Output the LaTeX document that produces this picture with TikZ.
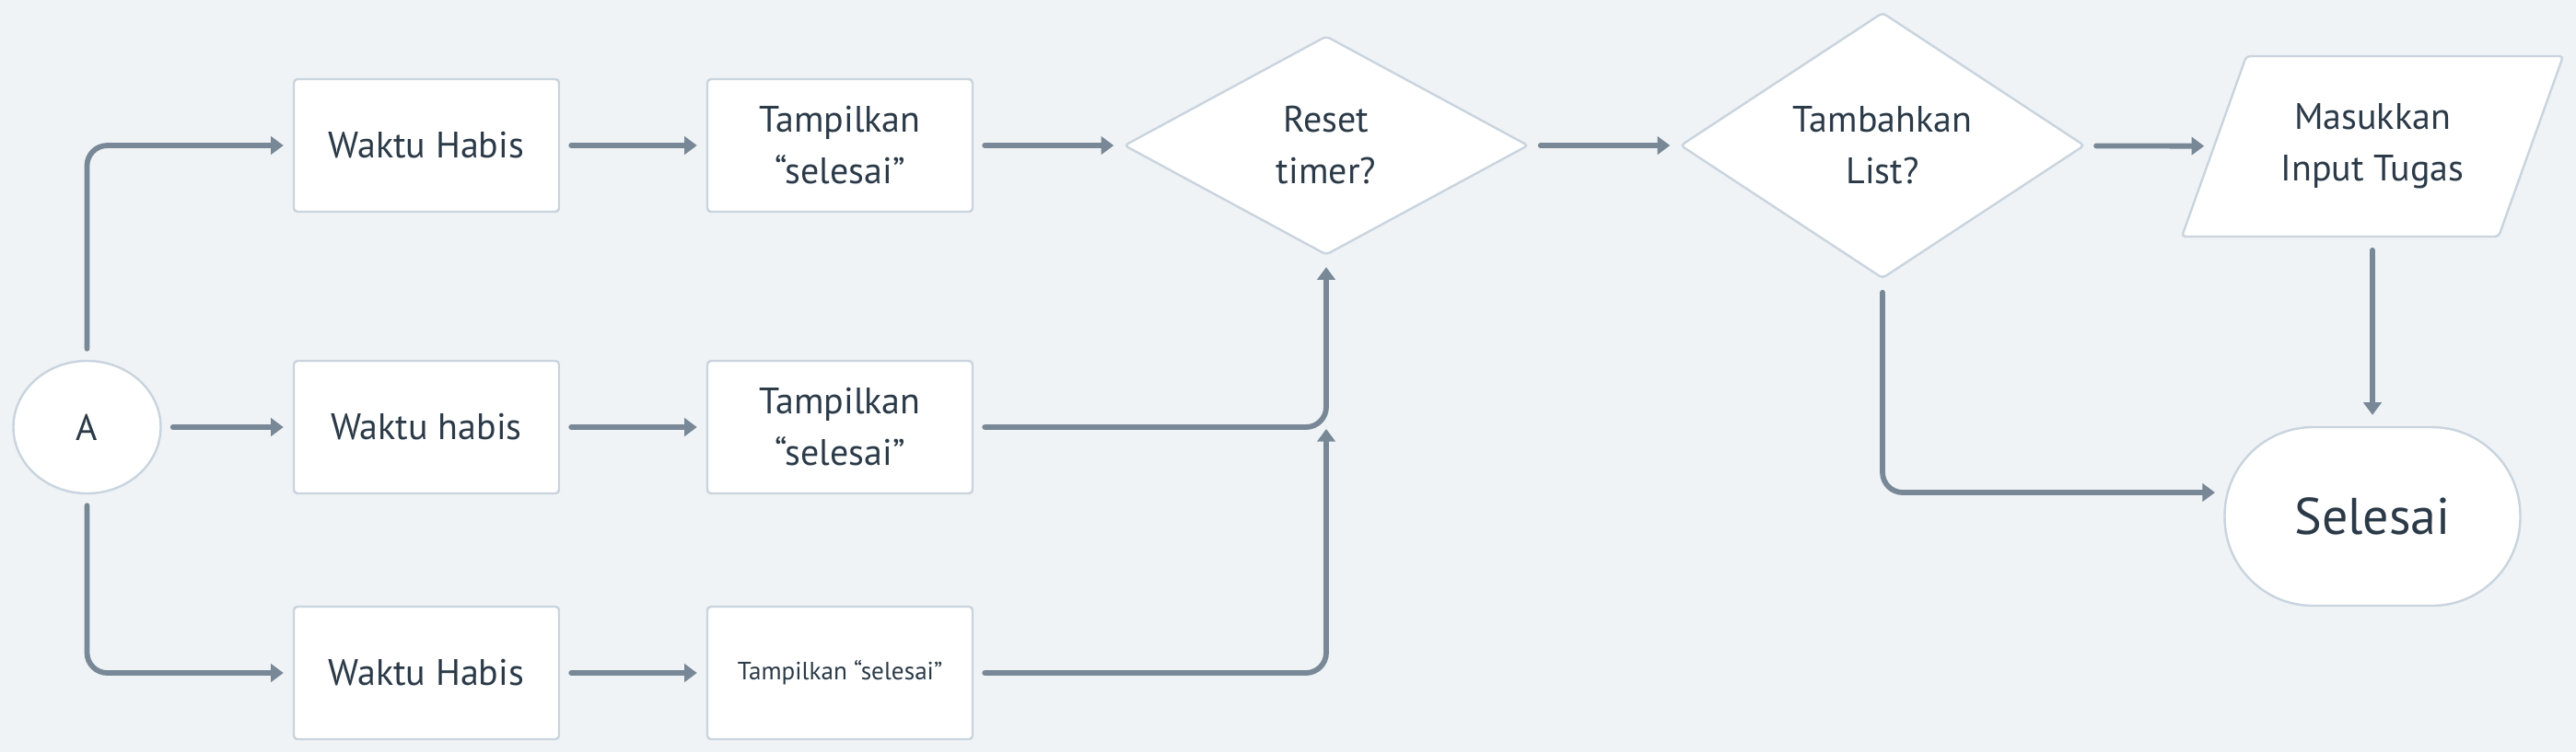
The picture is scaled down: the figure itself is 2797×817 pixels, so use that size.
\documentclass[tikz,border=0pt]{standalone}
\usepackage{fontspec}
\setmainfont{PT Sans}
\usetikzlibrary{arrows.meta,shapes.geometric,calc}
\definecolor{bg}{HTML}{EFF3F6}
\definecolor{edgec}{HTML}{C9D4DE}
\definecolor{lnc}{HTML}{788896}
\definecolor{txtc}{HTML}{2B3A48}
\begin{document}
\begin{tikzpicture}[x=0.25pt,y=-0.25pt,
  shp/.style={draw=edgec, line width=0.6pt, fill=white, inner sep=0pt, align=center, text=txtc, font=\fontsize{10}{14}\selectfont},
  box/.style={shp, rounded corners=1pt, minimum width=72pt, minimum height=36pt},
  dia/.style={shp, diamond, rounded corners=1pt},
  conn/.style={draw=lnc, line width=1.45pt, line cap=round, rounded corners=5.5pt, shorten <=3pt, shorten >=2.5pt, -{Triangle[length=3.4pt,width=4.8pt]}}
]
\fill[bg] (0,0) rectangle (2797,817);
\useasboundingbox (0,0) rectangle (2797,817);

\node[shp, ellipse, minimum width=40pt, minimum height=36pt] (A) at (94.5,464) {A};

\node[box] (w1) at (463,158) {Waktu Habis};
\node[box] (w2) at (463,464) {Waktu habis};
\node[box] (w3) at (463,731) {Waktu Habis};

\node[box] (t1) at (912,158) {Tampilkan\\“selesai”};
\node[box] (t2) at (912,464) {Tampilkan\\“selesai”};
\node[box, font=\fontsize{6.8}{8}\selectfont] (t3) at (912,731) {Tampilkan “selesai”};

\node[dia, minimum width=109.75pt, minimum height=59.5pt] (reset) at (1440,158) {Reset\\timer?};
\node[dia, minimum width=109.75pt, minimum height=72.25pt] (tamb) at (2044,158) {Tambahkan\\List?};

\path[draw=edgec, line width=0.6pt, fill=white, rounded corners=1pt]
  (2439,61) -- (2783,61) -- (2713,257) -- (2369,257) -- cycle;
\node[align=center, text=txtc, font=\fontsize{10}{14}\selectfont, inner sep=0pt, minimum width=86pt, minimum height=49pt] (inp) at (2576,159) {Masukkan\\Input Tugas};

\node[shp, rounded corners=24pt, minimum width=80.25pt, minimum height=48.5pt, font=\fontsize{14}{16}\selectfont] (sel) at (2576,561) {Selesai};

\coordinate (j) at (1440,464);
\coordinate (selin) at (2415,535);

\draw[conn] (A) |- (w1);
\draw[conn] (A) -- (w2);
\draw[conn] (A) |- (w3);
\draw[conn] (w1) -- (t1);
\draw[conn] (w2) -- (t2);
\draw[conn] (w3) -- (t3);
\draw[conn] (t1) -- (reset);
\draw[conn, shorten >=3pt] (t2) -| (reset);
\draw[conn, shorten >=0.5pt] (t3) -| (j);
\draw[conn] (reset) -- (tamb);
\draw[conn] (tamb) -- (inp);
\draw[conn, shorten <=3.5pt, shorten >=3pt] (inp) -- (sel);
\draw[conn, shorten <=3.5pt] (tamb) |- (selin);
\end{tikzpicture}
\end{document}
